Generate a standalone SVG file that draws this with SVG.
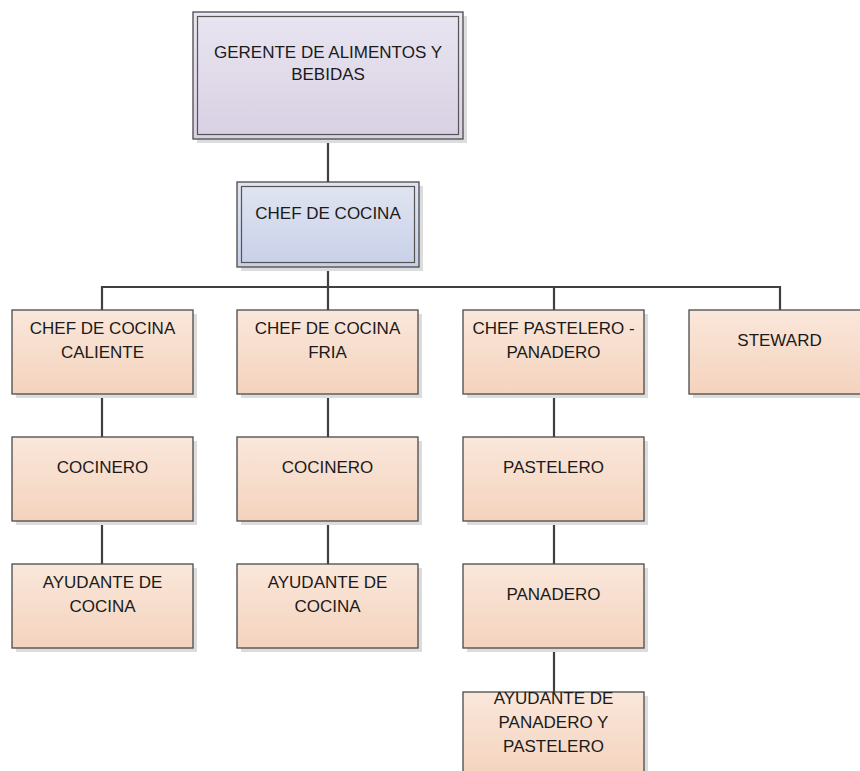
<svg xmlns="http://www.w3.org/2000/svg" width="860" height="771" viewBox="0 0 860 771">
<defs>
<linearGradient id="gPeach" x1="0" y1="0" x2="0" y2="1"><stop offset="0" stop-color="#fae7db"/><stop offset="1" stop-color="#f4d3bd"/></linearGradient>
<linearGradient id="gLav" x1="0" y1="0" x2="0" y2="1"><stop offset="0" stop-color="#e9e5f1"/><stop offset="1" stop-color="#d8d0e3"/></linearGradient>
<linearGradient id="gBlue" x1="0" y1="0" x2="0" y2="1"><stop offset="0" stop-color="#e1e5f2"/><stop offset="1" stop-color="#c8d0e8"/></linearGradient>
<style>
.sh{fill:#dcdcdc}
.bx{stroke:#4a4a4a;stroke-width:1.3}
.in{fill:none;stroke:#555;stroke-width:1.2}
.p{fill:url(#gPeach)}
.l{fill:url(#gLav)}
.b{fill:url(#gBlue)}
text{font-family:"Liberation Sans",Arial,sans-serif;font-size:17px;fill:#1a1a1a;text-anchor:middle}
.c{fill:none;stroke:#404040;stroke-width:2.2}
</style>
</defs>
<rect width="860" height="771" fill="#ffffff"/>
<g id="connectors">
<path class="c" d="M328 139V182M328 267V287M102 310V287H780V310M328 287V310M554 287V310"/>
<path class="c" d="M102 394V437M102 521V564M328 394V437M328 521V564M554 394V437M554 521V564M554 648V692"/>
</g>
<g id="gerente">
<rect class="sh" x="197" y="16" width="270" height="127"/>
<rect class="bx l" x="193" y="12" width="270" height="127"/>
<rect class="in" x="197.5" y="16.5" width="261" height="118"/>
<text x="328" y="58">GERENTE DE ALIMENTOS Y</text>
<text x="328" y="80">BEBIDAS</text>
</g>
<g id="chef">
<rect class="sh" x="241" y="186" width="182" height="85"/>
<rect class="bx b" x="237" y="182" width="182" height="85"/>
<rect class="in" x="241.5" y="186.5" width="173" height="76"/>
<text x="328" y="219">CHEF DE COCINA</text>
</g>
<g id="caliente">
<rect class="sh" x="16" y="314" width="181" height="84"/>
<rect class="bx p" x="12" y="310" width="181" height="84"/>
<text x="102.5" y="334">CHEF DE COCINA</text>
<text x="102.5" y="358">CALIENTE</text>
</g>
<g id="fria">
<rect class="sh" x="241" y="314" width="181" height="84"/>
<rect class="bx p" x="237" y="310" width="181" height="84"/>
<text x="327.5" y="334">CHEF DE COCINA</text>
<text x="327.5" y="358">FRIA</text>
</g>
<g id="pastelero-panadero">
<rect class="sh" x="467" y="314" width="181" height="84"/>
<rect class="bx p" x="463" y="310" width="181" height="84"/>
<text x="553.5" y="334">CHEF PASTELERO -</text>
<text x="553.5" y="358">PANADERO</text>
</g>
<g id="steward">
<rect class="sh" x="693" y="314" width="181" height="84"/>
<rect class="bx p" x="689" y="310" width="181" height="84"/>
<text x="779.5" y="346">STEWARD</text>
</g>
<g id="cocinero1">
<rect class="sh" x="16" y="441" width="181" height="84"/>
<rect class="bx p" x="12" y="437" width="181" height="84"/>
<text x="102.5" y="473">COCINERO</text>
</g>
<g id="cocinero2">
<rect class="sh" x="241" y="441" width="181" height="84"/>
<rect class="bx p" x="237" y="437" width="181" height="84"/>
<text x="327.5" y="473">COCINERO</text>
</g>
<g id="pastelero">
<rect class="sh" x="467" y="441" width="181" height="84"/>
<rect class="bx p" x="463" y="437" width="181" height="84"/>
<text x="553.5" y="473">PASTELERO</text>
</g>
<g id="ayudante1">
<rect class="sh" x="16" y="568" width="181" height="84"/>
<rect class="bx p" x="12" y="564" width="181" height="84"/>
<text x="102.5" y="588">AYUDANTE DE</text>
<text x="102.5" y="612">COCINA</text>
</g>
<g id="ayudante2">
<rect class="sh" x="241" y="568" width="181" height="84"/>
<rect class="bx p" x="237" y="564" width="181" height="84"/>
<text x="327.5" y="588">AYUDANTE DE</text>
<text x="327.5" y="612">COCINA</text>
</g>
<g id="panadero">
<rect class="sh" x="467" y="568" width="181" height="84"/>
<rect class="bx p" x="463" y="564" width="181" height="84"/>
<text x="553.5" y="600">PANADERO</text>
</g>
<g id="ayudante3">
<rect class="sh" x="467" y="696" width="181" height="84"/>
<rect class="bx p" x="463" y="692" width="181" height="84"/>
<text x="553.5" y="704">AYUDANTE DE</text>
<text x="553.5" y="728">PANADERO Y</text>
<text x="553.5" y="752">PASTELERO</text>
</g>
</svg>
